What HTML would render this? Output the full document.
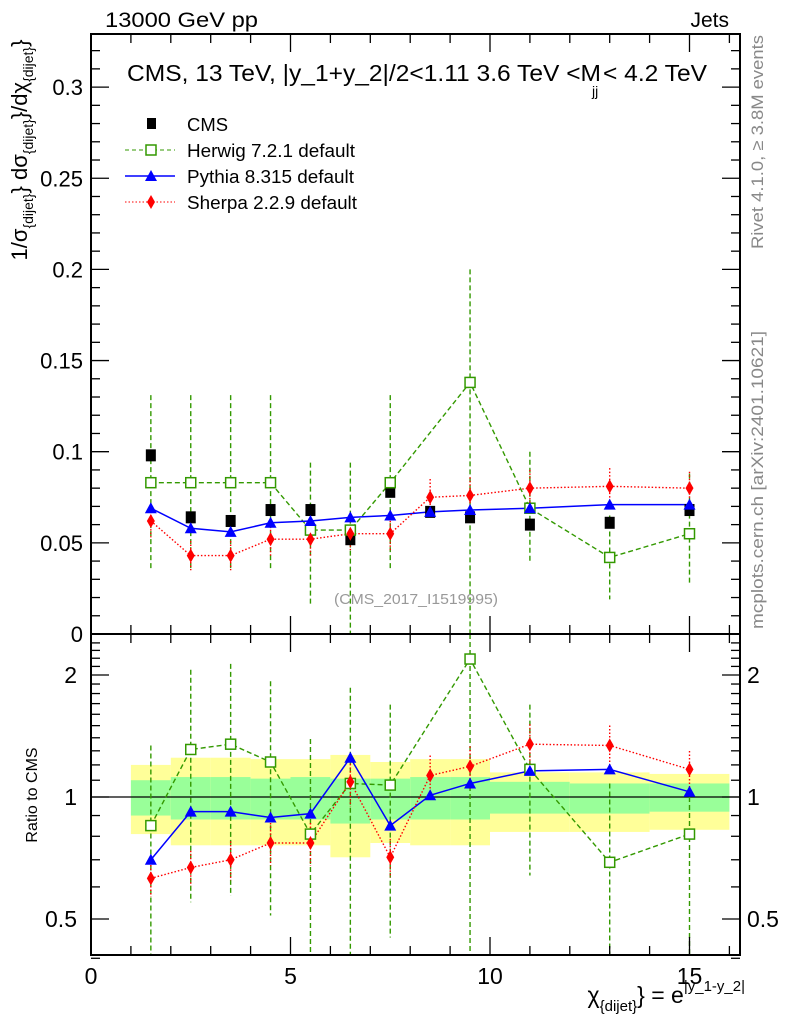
<!DOCTYPE html>
<html><head><meta charset="utf-8"><style>
html,body{margin:0;padding:0;background:#fff}
svg{display:block;font-family:"Liberation Sans",Arial,sans-serif}
</style></head><body>
<svg id="chart" width="786" height="1024" viewBox="0 0 786 1024" xmlns="http://www.w3.org/2000/svg">
<g id="bands"></g>
<g id="marks"></g>
<g id="axes"></g>
<text x="105" y="27" font-size="21" textLength="153" lengthAdjust="spacingAndGlyphs">13000 GeV pp</text>
<text x="729" y="27" font-size="21" text-anchor="end">Jets</text>
<g font-size="23">
<text x="127" y="81" textLength="474" lengthAdjust="spacingAndGlyphs">CMS, 13 TeV, |y_1+y_2|/2&lt;1.11 3.6 TeV &lt;M</text>
<text x="592" y="96" font-size="14">jj</text>
<text x="603" y="81" textLength="104" lengthAdjust="spacingAndGlyphs">&lt; 4.2 TeV</text>
</g>
<g font-size="18">
<rect x="147" y="118" width="9" height="11" fill="#000"/><text x="187" y="131" textLength="41" lengthAdjust="spacingAndGlyphs">CMS</text>
<line x1="125" y1="150" x2="175" y2="150" stroke="#339900" stroke-dasharray="4,3"/><rect x="146" y="145" width="10" height="10" fill="#fff" stroke="#339900" stroke-width="1.5"/><text x="187" y="157" textLength="168" lengthAdjust="spacingAndGlyphs">Herwig 7.2.1 default</text>
<line x1="125" y1="176" x2="175" y2="176" stroke="#0000ff" stroke-width="1.5"/><path d="M151 170 L157 181 L145 181 Z" fill="#0000ff"/><text x="187" y="183" textLength="167" lengthAdjust="spacingAndGlyphs">Pythia 8.315 default</text>
<line x1="125" y1="202" x2="175" y2="202" stroke="#ff0000" stroke-dasharray="1.5,2"/><path d="M151 195 L155 202 L151 209 L147 202 Z" fill="#ff0000"/><text x="187" y="209" textLength="170" lengthAdjust="spacingAndGlyphs">Sherpa 2.2.9 default</text>
</g>
<text x="416" y="604" font-size="15" fill="#999" text-anchor="middle" textLength="164" lengthAdjust="spacingAndGlyphs">(CMS_2017_I1519995)</text>
<text transform="translate(763,142) rotate(-90)" font-size="17" fill="#888" text-anchor="middle" textLength="214" lengthAdjust="spacingAndGlyphs">Rivet 4.1.0, ≥ 3.8M events</text>
<text transform="translate(763,480) rotate(-90)" font-size="17" fill="#888" text-anchor="middle" textLength="298" lengthAdjust="spacingAndGlyphs">mcplots.cern.ch [arXiv:2401.10621]</text>
<text transform="translate(27,150) rotate(-90)" font-size="22" text-anchor="middle">1/σ<tspan font-size="14" dy="6">{dijet}</tspan><tspan dy="-6">} dσ</tspan><tspan font-size="14" dy="6">{dijet}</tspan><tspan dy="-6">}/dχ</tspan><tspan font-size="14" dy="6">{dijet}</tspan><tspan dy="-6">}</tspan></text>
<text transform="translate(37,795) rotate(-90)" font-size="16" text-anchor="middle">Ratio to CMS</text>
<text x="745" y="1003" font-size="23" text-anchor="end">χ<tspan font-size="15" dy="8">{dijet}</tspan><tspan dy="-8">} = e</tspan><tspan font-size="15" dy="-12">|y_1-y_2|</tspan></text>
</svg>
<script>
const xCenters=[1.5,2.5,3.5,4.5,5.5,6.5,7.5,8.5,9.5,11,13,15];
const binEdges=[1,2,3,4,5,6,7,8,9,10,12,14,16];
const cmsVals=[0.098,0.064,0.062,0.068,0.068,0.052,0.078,0.067,0.064,0.060,0.061,0.068];
const herwigVals=[0.083,0.083,0.083,0.083,0.057,0.057,0.083,null,0.138,0.069,0.042,0.055];
const herwigUp=[0.131,0.131,0.131,0.131,0.094,0.094,0.131,null,0.200,0.100,0.065,0.088];
const herwigDn=[0.036,0.036,0.036,0.036,0.016,0.0,0.036,null,0.0,0.039,0.019,0.028];
const pythiaVals=[0.069,0.058,0.056,0.061,0.062,0.064,0.065,0.067,0.068,0.069,0.071,0.071];
const sherpaVals=[0.062,0.043,0.043,0.052,0.052,0.055,0.055,0.075,0.076,0.080,0.081,0.080];
const sherpaErr=[0.009,0.008,0.008,0.009,0.009,0.009,0.009,0.010,0.010,0.010,0.010,0.009];
const rHerwig=[0.85,1.31,1.35,1.22,0.81,1.08,1.07,null,2.19,1.17,0.69,0.81];
const rHerwigUp=[1.34,2.06,2.13,1.93,1.39,1.86,1.69,null,3.0,1.69,1.08,1.0];
const rHerwigDn=[0.3,0.55,0.57,0.51,0.3,0.3,0.45,null,0.3,0.64,0.3,0.3];
const rPythia=[0.70,0.92,0.92,0.89,0.91,1.25,0.85,1.01,1.08,1.16,1.17,1.03];
const rSherpa=[0.63,0.67,0.70,0.77,0.77,1.09,0.71,1.13,1.19,1.35,1.34,1.17];
const rSherpaErr=[0.10,0.10,0.11,0.12,0.12,0.13,0.11,0.12,0.12,0.12,0.12,0.11];
const yellowUp=[1.20,1.25,1.25,1.24,1.24,1.27,1.22,1.24,1.24,1.15,1.15,1.14];
const yellowDn=[0.81,0.76,0.76,0.76,0.76,0.71,0.77,0.76,0.76,0.82,0.82,0.83];
const greenUp=[1.10,1.12,1.12,1.11,1.12,1.11,1.11,1.12,1.12,1.09,1.08,1.08];
const greenDn=[0.90,0.88,0.88,0.88,0.88,0.86,0.88,0.88,0.88,0.91,0.91,0.92];
const mainTicks=[0,0.05,0.1,0.15,0.2,0.25,0.3];
const mainTickLabels=["0","0.05","0.1","0.15","0.2","0.25","0.3"];
const xTicks=[0,5,10,15];
const ratioTicks=[0.5,1,2];

const L=91,R=740,T=34,MB=634,RB=955;
const X=v=>L+v*39.9;
const Y=v=>MB-v*1823;
const YR=v=>797-122*Math.log2(v);
const NS='http://www.w3.org/2000/svg';
function mk(parent,tag,attrs){const e=document.createElementNS(NS,tag);for(const k in attrs)e.setAttribute(k,attrs[k]);document.getElementById(parent).appendChild(e);return e;}
const clipRt=v=>Math.min(RB,Math.max(MB,v));

for(let i=0;i<xCenters.length;i++){
 let e=mk('bands','rect',{x:X(binEdges[i]),y:YR(yellowUp[i]),width:X(binEdges[i+1])-X(binEdges[i]),height:YR(yellowDn[i])-YR(yellowUp[i]),fill:'#ffff99'});
 
 
 e=mk('bands','rect',{x:X(binEdges[i]),y:YR(greenUp[i]),width:X(binEdges[i+1])-X(binEdges[i]),height:YR(greenDn[i])-YR(greenUp[i]),fill:'#99ff99'});
 
 
}
let l=mk('bands','line',{x1:L,x2:R,y1:YR(1),y2:YR(1),stroke:'#000','stroke-width':1.2});



function polyline(vals,xf,yf,style,name){
 const pts=[];vals.forEach((v,i)=>{if(v!==null)pts.push(xf(xCenters[i])+','+yf(v));});
 const p=mk('marks','polyline',Object.assign({points:pts.join(' '),fill:'none'},style));
 
 
}
function err(x,y1,y2,style,name){
 const e=mk('marks','line',Object.assign({x1:x,x2:x,y1:y1,y2:y2},style));
 
 
}
const gS={stroke:'#339900','stroke-width':1.4,'stroke-dasharray':'5,3'};
const bS={stroke:'#0000ff','stroke-width':1.5};
const rS={stroke:'#ff0000','stroke-width':1.4,'stroke-dasharray':'1.5,2'};
function square(x,y,name){const e=mk('marks','rect',{x:x-5,y:y-5,width:10,height:10,fill:'#fff',stroke:'#339900','stroke-width':1.5});}
function tri(x,y,name){const e=mk('marks','path',{d:`M${x} ${y-6} L${x+6} ${y+5} L${x-6} ${y+5} Z`,fill:'#0000ff'});}
function dia(x,y,name){const e=mk('marks','path',{d:`M${x} ${y-7} L${x+4} ${y} L${x} ${y+7} L${x-4} ${y} Z`,fill:'#ff0000'});}

polyline(herwigVals,X,Y,gS,'herwig-line');
polyline(pythiaVals,X,Y,bS,'pythia-line');
polyline(sherpaVals,X,Y,rS,'sherpa-line');
xCenters.forEach((c,i)=>{
 const x=X(c);
 if(herwigVals[i]!==null){err(x,Y(herwigUp[i]),Math.min(MB,Y(herwigDn[i])),gS,'herwig-error');}
 err(x,Y(sherpaVals[i]+sherpaErr[i]),Y(sherpaVals[i]-sherpaErr[i]),rS,'sherpa-error');
 const c1=mk('marks','rect',{x:x-5,y:Y(cmsVals[i])-6,width:10,height:12,fill:'#000'});
 
 
 if(herwigVals[i]!==null)square(x,Y(herwigVals[i]),'herwig-point');
 tri(x,Y(pythiaVals[i]),'pythia-point');
 dia(x,Y(sherpaVals[i]),'sherpa-point');
});
polyline(rHerwig,X,YR,gS,'herwig-ratio-line');
polyline(rPythia,X,YR,bS,'pythia-ratio-line');
polyline(rSherpa,X,YR,rS,'sherpa-ratio-line');
xCenters.forEach((c,i)=>{
 const x=X(c);
 if(rHerwig[i]!==null){err(x,clipRt(YR(rHerwigUp[i])),clipRt(YR(rHerwigDn[i])),gS,'herwig-ratio-error');}
 err(x,YR(rSherpa[i]*(1+rSherpaErr[i])),YR(rSherpa[i]*(1-rSherpaErr[i])),rS,'sherpa-ratio-error');
 if(rHerwig[i]!==null)square(x,YR(rHerwig[i]),'herwig-ratio-point');
 tri(x,YR(rPythia[i]),'pythia-ratio-point');
 dia(x,YR(rSherpa[i]),'sherpa-ratio-point');
});

function ax(tag,attrs,name){const e=mk('axes',tag,attrs);return e;}
ax('rect',{x:L,y:T,width:R-L,height:MB-T,fill:'none',stroke:'#000','stroke-width':2},'main-frame');
ax('rect',{x:L,y:MB,width:R-L,height:RB-MB,fill:'none',stroke:'#000','stroke-width':2},'ratio-frame');
for(let v=0;v<=16;v++){
 const len=(v%5===0)?18:9;
 [[MB,-1],[T,1],[RB,-1],[MB,1]].forEach(([y0,d])=>{
  ax('line',{x1:X(v),x2:X(v),y1:y0,y2:y0+d*len,stroke:'#000','stroke-width':1.3},'x-tick');
 });
}
xTicks.forEach(v=>{const t=ax('text',{x:X(v),y:984,'font-size':23,'text-anchor':'middle'},'x-tick-label');t.textContent=v;});
for(let v=0;v<=0.325;v+=0.01){
 const major=Math.abs(Math.round(v*100)%5)===0;
 const len=major?18:9;
 ax('line',{x1:L,x2:L+len,y1:Y(v),y2:Y(v),stroke:'#000','stroke-width':1.3},'y-tick');
 ax('line',{x1:R,x2:R-len,y1:Y(v),y2:Y(v),stroke:'#000','stroke-width':1.3},'y-tick');
}
mainTicks.forEach((v,i)=>{const t=ax('text',{x:L-8,y:Y(v)+8,'font-size':22,'text-anchor':'end'},'y-tick-label');t.textContent=mainTickLabels[i];});
const rMinor=[0.4,0.5,0.6,0.7,0.8,0.9,1,1.1,1.2,1.3,1.4,1.5,1.6,1.7,1.8,1.9,2,2.1,2.2,2.3,2.4];
rMinor.forEach(v=>{const major=ratioTicks.includes(v);const len=major?18:9;
 ax('line',{x1:L,x2:L+len,y1:YR(v),y2:YR(v),stroke:'#000','stroke-width':1.3},'ratio-y-tick');
 ax('line',{x1:R,x2:R-len,y1:YR(v),y2:YR(v),stroke:'#000','stroke-width':1.3},'ratio-y-tick');
});
ratioTicks.forEach(v=>{
 const t=ax('text',{x:747,y:YR(v)+8,'font-size':23},'ratio-tick-label-right');t.textContent=v;
 const t2=ax('text',{x:L-14,y:YR(v)+8,'font-size':23,'text-anchor':'end'},'ratio-tick-label-left');t2.textContent=v;
});
</script>
</body></html>
